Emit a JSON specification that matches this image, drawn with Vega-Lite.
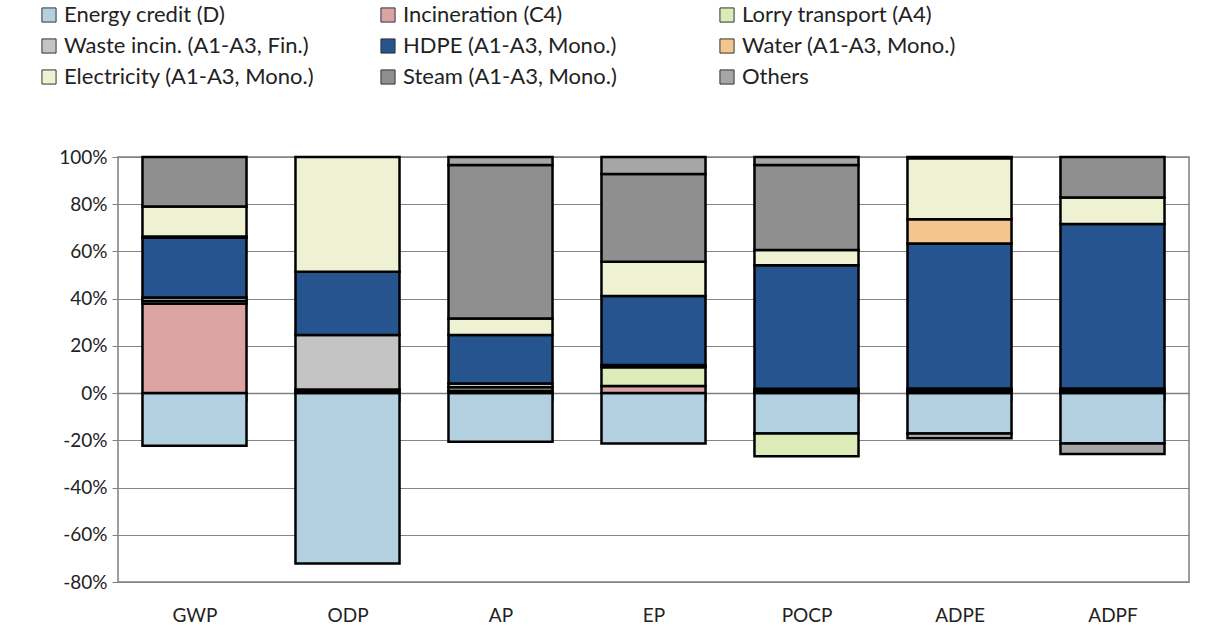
{
  "$schema": "https://vega.github.io/schema/vega-lite/v6.json",
  "width": 1071,
  "height": 425,
  "autosize": {"type": "none"},
  "padding": {"left": 118, "top": 157, "right": 25, "bottom": 60},
  "background": "white",
  "config": {
    "font": "Lato",
    "view": {"stroke": "#7f7f7f", "strokeWidth": 1.5}
  },
  "data": {
    "values": [
      {"cat": "GWP", "series": "Energy credit (D)", "rank": 0, "v": -22.3},
      {"cat": "GWP", "series": "Incineration (C4)", "rank": 1, "v": 37.8},
      {"cat": "GWP", "series": "Lorry transport (A4)", "rank": 2, "v": 1.2},
      {"cat": "GWP", "series": "Waste incin. (A1-A3, Fin.)", "rank": 3, "v": 1.5},
      {"cat": "GWP", "series": "HDPE  (A1-A3, Mono.)", "rank": 4, "v": 25.3},
      {"cat": "GWP", "series": "Water (A1-A3, Mono.)", "rank": 5, "v": 0.5},
      {"cat": "GWP", "series": "Electricity (A1-A3, Mono.)", "rank": 6, "v": 12.7},
      {"cat": "GWP", "series": "Steam (A1-A3, Mono.)", "rank": 7, "v": 21.0},

      {"cat": "ODP", "series": "Energy credit (D)", "rank": 0, "v": -72.2},
      {"cat": "ODP", "series": "Incineration (C4)", "rank": 1, "v": 0.5},
      {"cat": "ODP", "series": "Lorry transport (A4)", "rank": 2, "v": 1.0},
      {"cat": "ODP", "series": "Waste incin. (A1-A3, Fin.)", "rank": 3, "v": 23.1},
      {"cat": "ODP", "series": "HDPE  (A1-A3, Mono.)", "rank": 4, "v": 26.8},
      {"cat": "ODP", "series": "Electricity (A1-A3, Mono.)", "rank": 6, "v": 48.6},

      {"cat": "AP", "series": "Energy credit (D)", "rank": 0, "v": -20.6},
      {"cat": "AP", "series": "Incineration (C4)", "rank": 1, "v": 1.0},
      {"cat": "AP", "series": "Lorry transport (A4)", "rank": 2, "v": 1.5},
      {"cat": "AP", "series": "Waste incin. (A1-A3, Fin.)", "rank": 3, "v": 1.6},
      {"cat": "AP", "series": "HDPE  (A1-A3, Mono.)", "rank": 4, "v": 20.5},
      {"cat": "AP", "series": "Electricity (A1-A3, Mono.)", "rank": 6, "v": 7.0},
      {"cat": "AP", "series": "Steam (A1-A3, Mono.)", "rank": 7, "v": 65.0},
      {"cat": "AP", "series": "Others", "rank": 8, "v": 3.4},

      {"cat": "EP", "series": "Energy credit (D)", "rank": 0, "v": -21.3},
      {"cat": "EP", "series": "Incineration (C4)", "rank": 1, "v": 3.0},
      {"cat": "EP", "series": "Lorry transport (A4)", "rank": 2, "v": 8.0},
      {"cat": "EP", "series": "Waste incin. (A1-A3, Fin.)", "rank": 3, "v": 0.9},
      {"cat": "EP", "series": "HDPE  (A1-A3, Mono.)", "rank": 4, "v": 29.2},
      {"cat": "EP", "series": "Electricity (A1-A3, Mono.)", "rank": 6, "v": 14.5},
      {"cat": "EP", "series": "Steam (A1-A3, Mono.)", "rank": 7, "v": 37.2},
      {"cat": "EP", "series": "Others", "rank": 8, "v": 7.2},

      {"cat": "POCP", "series": "Energy credit (D)", "rank": 0, "v": -17.1},
      {"cat": "POCP", "series": "Lorry transport (A4)", "rank": 2, "v": -9.6},
      {"cat": "POCP", "series": "Incineration (C4)", "rank": 1, "v": 0.5},
      {"cat": "POCP", "series": "Lorry transport (A4)", "rank": 2, "v": 0.5},
      {"cat": "POCP", "series": "Waste incin. (A1-A3, Fin.)", "rank": 3, "v": 0.8},
      {"cat": "POCP", "series": "HDPE  (A1-A3, Mono.)", "rank": 4, "v": 52.4},
      {"cat": "POCP", "series": "Electricity (A1-A3, Mono.)", "rank": 6, "v": 6.4},
      {"cat": "POCP", "series": "Steam (A1-A3, Mono.)", "rank": 7, "v": 36.0},
      {"cat": "POCP", "series": "Others", "rank": 8, "v": 3.4},

      {"cat": "ADPE", "series": "Energy credit (D)", "rank": 0, "v": -17.1},
      {"cat": "ADPE", "series": "Others", "rank": 8, "v": -2.0},
      {"cat": "ADPE", "series": "Incineration (C4)", "rank": 1, "v": 1.0},
      {"cat": "ADPE", "series": "Lorry transport (A4)", "rank": 2, "v": 0.3},
      {"cat": "ADPE", "series": "Waste incin. (A1-A3, Fin.)", "rank": 3, "v": 0.7},
      {"cat": "ADPE", "series": "HDPE  (A1-A3, Mono.)", "rank": 4, "v": 61.4},
      {"cat": "ADPE", "series": "Water (A1-A3, Mono.)", "rank": 5, "v": 10.2},
      {"cat": "ADPE", "series": "Electricity (A1-A3, Mono.)", "rank": 6, "v": 25.9},
      {"cat": "ADPE", "series": "Steam (A1-A3, Mono.)", "rank": 7, "v": 0.3},
      {"cat": "ADPE", "series": "Others", "rank": 8, "v": 0.2},

      {"cat": "ADPF", "series": "Energy credit (D)", "rank": 0, "v": -21.3},
      {"cat": "ADPF", "series": "Others", "rank": 8, "v": -4.5},
      {"cat": "ADPF", "series": "Incineration (C4)", "rank": 1, "v": 0.5},
      {"cat": "ADPF", "series": "Lorry transport (A4)", "rank": 2, "v": 0.5},
      {"cat": "ADPF", "series": "Waste incin. (A1-A3, Fin.)", "rank": 3, "v": 1.0},
      {"cat": "ADPF", "series": "HDPE  (A1-A3, Mono.)", "rank": 4, "v": 69.6},
      {"cat": "ADPF", "series": "Electricity (A1-A3, Mono.)", "rank": 6, "v": 11.2},
      {"cat": "ADPF", "series": "Steam (A1-A3, Mono.)", "rank": 7, "v": 17.2}
    ]
  },
  "mark": {"type": "bar", "stroke": "black", "strokeWidth": 2.5},
  "encoding": {
    "x": {
      "field": "cat",
      "type": "nominal",
      "sort": ["GWP", "ODP", "AP", "EP", "POCP", "ADPE", "ADPF"],
      "scale": {"paddingInner": 0.32, "paddingOuter": 0.16},
      "axis": {
        "title": null,
        "labelAngle": 0,
        "offset": -189,
        "domainColor": "#7f7f7f",
        "domainWidth": 1.5,
        "tickBand": "extent",
        "tickColor": "#7f7f7f",
        "tickSize": 8,
        "labelPadding": 205,
        "labelBaseline": "top",
        "labelFontSize": 19,
        "labelColor": "#222222"
      }
    },
    "y": {
      "field": "v",
      "type": "quantitative",
      "stack": "zero",
      "scale": {"domain": [-80, 100], "nice": false},
      "axis": {
        "title": null,
        "values": [-80, -60, -40, -20, 0, 20, 40, 60, 80, 100],
        "labelExpr": "datum.value + '%'",
        "domain": false,
        "ticks": true,
        "tickSize": 6,
        "tickColor": "#7f7f7f",
        "gridColor": "#868686",
        "gridWidth": 1.2,
        "labelFontSize": 19,
        "labelColor": "#222222",
        "labelPadding": 5
      }
    },
    "order": {"field": "rank", "type": "quantitative"},
    "color": {
      "field": "series",
      "type": "nominal",
      "scale": {
        "domain": ["Energy credit (D)", "Incineration (C4)", "Lorry transport (A4)", "Waste incin. (A1-A3, Fin.)", "HDPE  (A1-A3, Mono.)", "Water (A1-A3, Mono.)", "Electricity (A1-A3, Mono.)", "Steam (A1-A3, Mono.)", "Others"],
        "range": ["#b3d0e0", "#dca3a3", "#dcebb8", "#c4c4c4", "#25548f", "#f3c58f", "#eef2d2", "#8f8f8f", "#a6a6a6"]
      },
      "legend": {
        "title": null,
        "orient": "none",
        "legendX": -80,
        "legendY": -153,
        "direction": "horizontal",
        "columns": 3,
        "gridAlign": "all",
        "columnPadding": 62,
        "rowPadding": 9,
        "symbolType": "square",
        "symbolSize": 200,
        "symbolStrokeColor": "#333333",
        "symbolStrokeWidth": 1,
        "labelFontSize": 22,
        "labelColor": "#222222",
        "labelLimit": 400,
        "labelOffset": 4
      }
    }
  }
}
